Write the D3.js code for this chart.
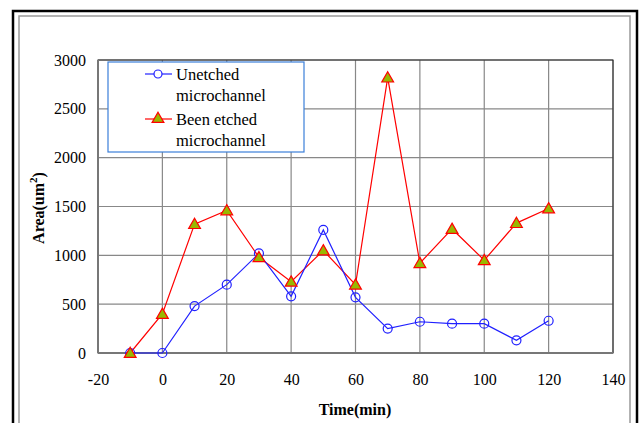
<!DOCTYPE html>
<html lang="en">
<head>
    <meta charset="UTF-8">
    <title>Area vs Time</title>
    <style>
        body { margin: 0; background: #fff; }
        .axisTitle { font-family: "Liberation Serif", serif; font-size: 16px; font-weight: bold; }
        .legend text { font-family: "Liberation Serif", serif; font-size: 16.5px; }
        .clsUn { stroke: #2020ff; stroke-width: 1.2px; fill: none; }
        .clsEt { stroke: #ff0000; stroke-width: 1.2px; fill: none; }
    </style>
    <script src="https://d3js.org/d3.v7.min.js"></script>
</head>
<body>
<svg id="chart"></svg>
<script>
    // values
    const times = [-10, 0, 10, 20, 30, 40, 50, 60, 70, 80, 90, 100, 110, 120];
    const unetched = [0, 0, 480, 700, 1020, 580, 1260, 570, 250, 320, 300, 300, 130, 330];
    const etched = [0, 400, 1320, 1460, 980, 730, 1050, 700, 2820, 920, 1270, 950, 1330, 1480];
    const xTicks = [-20, 0, 20, 40, 60, 80, 100, 120, 140];
    const yTicks = [0, 500, 1000, 1500, 2000, 2500, 3000];
    const seriesNames = ["Unetched microchannel", "Been etched microchannel"];

    const width = 641, height = 423;
    const margin = {top: 60, right: 28, bottom: 70, left: 98};

    const svg = d3.select("#chart").attr("width", width).attr("height", height);

    // outer frames
    svg.append("rect").attr("x", 13).attr("y", 11).attr("width", 624).attr("height", 430)
        .attr("fill", "none").attr("stroke", "#000").attr("stroke-width", 2.5);
    svg.append("rect").attr("x", 19).attr("y", 16).attr("width", 611).attr("height", 420)
        .attr("fill", "none").attr("stroke", "#999").attr("stroke-width", 1.5);

    const x = d3.scaleLinear().domain([-20, 140]).range([margin.left, width - margin.right]);
    const y = d3.scaleLinear().domain([0, 3000]).range([height - margin.bottom, margin.top]);

    // gridlines
    svg.append("g").selectAll("line").data(yTicks).join("line")
        .attr("x1", x(-20)).attr("x2", x(140))
        .attr("y1", d => y(d)).attr("y2", d => y(d))
        .attr("stroke", "#888").attr("stroke-width", 1.2);
    svg.append("g").selectAll("line").data(xTicks).join("line")
        .attr("y1", y(0)).attr("y2", y(3000))
        .attr("x1", d => x(d)).attr("x2", d => x(d))
        .attr("stroke", "#888").attr("stroke-width", 1.2);

    // plot frame
    svg.append("rect").attr("x", x(-20)).attr("y", y(3000))
        .attr("width", x(140) - x(-20)).attr("height", y(0) - y(3000))
        .attr("fill", "none").attr("stroke", "#222").attr("stroke-width", 1);
    svg.append("line").attr("x1", x(-20)).attr("x2", x(140)).attr("y1", y(0)).attr("y2", y(0))
        .attr("stroke", "#777").attr("stroke-width", 2);
    svg.append("line").attr("x1", x(-20)).attr("x2", x(-20)).attr("y1", y(0)).attr("y2", y(3000))
        .attr("stroke", "#777").attr("stroke-width", 2);

    // axes (labels only)
    const fmt = d => String(d);
    svg.append("g")
        .attr("transform", `translate(0, ${y(0)})`)
        .call(d3.axisBottom(x).tickValues(xTicks).tickFormat(fmt).tickSize(0).tickPadding(21))
        .attr("font-family", "Liberation Serif, serif").attr("font-size", 16)
        .call(g => g.select(".domain").remove());
    svg.append("g")
        .attr("transform", `translate(${x(-20)}, 0)`)
        .call(d3.axisLeft(y).tickValues(yTicks).tickFormat(fmt).tickSize(0).tickPadding(12))
        .attr("font-family", "Liberation Serif, serif").attr("font-size", 16)
        .call(g => g.select(".domain").remove());

    svg.append("text").attr("class", "axisTitle")
        .attr("x", 355).attr("y", 415).attr("text-anchor", "middle")
        .text("Time(min)");
    svg.append("text").attr("class", "axisTitle")
        .attr("transform", "translate(44, 208) rotate(-90)")
        .attr("text-anchor", "middle")
        .text("Area(um")
        .append("tspan").attr("font-size", "11px").attr("dy", -7).text("2")
        .select(function () { return this.parentNode; })
        .append("tspan").attr("dy", 7).text(")");

    const unData = times.map((t, i) => ({t, v: unetched[i]}));
    const etData = times.map((t, i) => ({t, v: etched[i]}));
    const line = d3.line().x(d => x(d.t)).y(d => y(d.v));

    const tri = d3.symbol().type(d3.symbolTriangle).size(60);

    svg.append("path").datum(etData).attr("class", "clsEt").attr("d", line);
    svg.append("path").datum(unData).attr("class", "clsUn").attr("d", line);

    svg.append("g").selectAll("circle").data(unData).join("circle")
        .attr("cx", d => x(d.t)).attr("cy", d => y(d.v)).attr("r", 4.5)
        .attr("fill", "none").attr("stroke", "#2020ff").attr("stroke-width", 1.2);
    svg.append("g").selectAll("path").data(etData).join("path")
        .attr("d", tri)
        .attr("transform", d => `translate(${x(d.t)}, ${y(d.v) + 1})`)
        .attr("fill", "#99b800").attr("stroke", "#ff0000").attr("stroke-width", 1.2);

    // legend
    const legend = svg.append("g").attr("class", "legend");
    legend.append("rect").attr("x", 108).attr("y", 62).attr("width", 196).attr("height", 90)
        .attr("fill", "#fff").attr("stroke", "#3b7fd9").attr("stroke-width", 1.2);

    legend.append("line").attr("x1", 145).attr("x2", 172).attr("y1", 74).attr("y2", 74)
        .attr("stroke", "#2020ff").attr("stroke-width", 1.2);
    legend.append("circle").attr("cx", 158).attr("cy", 74).attr("r", 4)
        .attr("fill", "#fff").attr("stroke", "#2020ff").attr("stroke-width", 1.2);
    legend.append("line").attr("x1", 145).attr("x2", 172).attr("y1", 119).attr("y2", 119)
        .attr("stroke", "#ff0000").attr("stroke-width", 1.2);
    legend.append("path").attr("d", tri).attr("transform", "translate(158, 119)")
        .attr("fill", "#99b800").attr("stroke", "#ff0000").attr("stroke-width", 1.2);

    const names = seriesNames.map(s => {
        const k = s.lastIndexOf(" ");
        return [s.slice(0, k), s.slice(k + 1)];
    });
    names.forEach((parts, i) => {
        legend.append("text").attr("x", 176).attr("y", 80 + i * 45).text(parts[0]);
        legend.append("text").attr("x", 176).attr("y", 101 + i * 45).text(parts[1]);
    });
</script>
</body>
</html>
